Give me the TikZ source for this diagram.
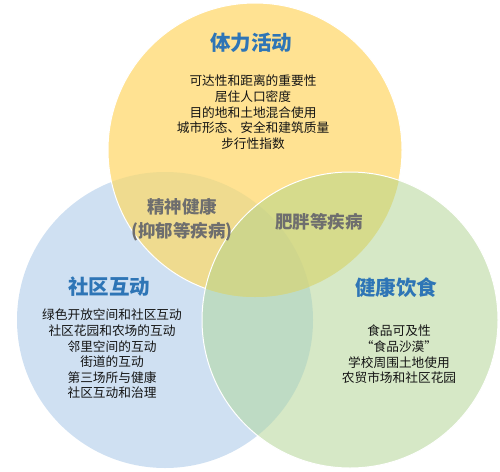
\documentclass[tikz,border=0pt]{standalone}
\usepackage{fontspec}
\newfontfamily\cjk{Noto Sans CJK SC}
\definecolor{cY}{RGB}{255,226,146}
\definecolor{cB}{RGB}{207,224,242}
\definecolor{cG}{RGB}{214,232,198}
\definecolor{cYB}{RGB}{239,219,143}
\definecolor{cYG}{RGB}{214,219,140}
\definecolor{cBG}{RGB}{190,219,196}
\definecolor{cYBG}{RGB}{207,214,140}
\definecolor{ttl}{RGB}{46,117,182}
\definecolor{mid}{RGB}{110,110,110}
\definecolor{body}{RGB}{20,20,20}
\tikzset{
  ttlnode/.style={font=\cjk\bfseries\fontsize{20.5}{24}\selectfont, text=ttl, inner sep=0pt},
  bodynode/.style={font=\cjk\fontsize{12.7}{15.6}\selectfont, text=body, align=center, inner sep=0pt},
  midnode/.style={font=\cjk\bfseries\fontsize{17.5}{24}\selectfont, text=mid, align=center, inner sep=0pt},
  rim/.style={draw=white, line width=1pt}
}
\begin{document}
\begin{tikzpicture}[x=1pt,y=-1pt]
\useasboundingbox (0,0) rectangle (500,471);
\def\Ycirc{(255,150) circle[radius=147]}
\def\Bcirc{(165,320) circle[radius=148]}
\def\Gcirc{(350,320) circle[radius=148]}
\fill[cB] \Bcirc;
\fill[cY] \Ycirc;
\begin{scope}\clip \Ycirc; \fill[cYB] \Bcirc; \end{scope}
\draw[rim] \Ycirc;
\fill[cG] \Gcirc;
\begin{scope}\clip \Gcirc; \fill[cBG] \Bcirc; \end{scope}
\begin{scope}\clip \Gcirc; \fill[cYG] \Ycirc; \end{scope}
\begin{scope}\clip \Gcirc; \clip \Ycirc; \fill[cYBG] \Bcirc; \end{scope}
\draw[rim] \Gcirc;

\node[ttlnode] (t1) at (251,43) {体力活动};
\node[bodynode, anchor=north] (b1) at (253,75) {可达性和距离的重要性\\居住人口密度\\目的地和土地混合使用\\城市形态、安全和建筑质量\\步行性指数};
\node[ttlnode] (t2) at (109,287) {社区互动};
\node[bodynode, anchor=north] (b2) at (112,309) {绿色开放空间和社区互动\\社区花园和农场的互动\\邻里空间的互动\\街道的互动\\第三场所与健康\\社区互动和治理};
\node[ttlnode] (t3) at (396,288) {健康饮食};
\node[bodynode, anchor=north] (b3) at (399,325) {食品可及性\\“食品沙漠”\\学校周围土地使用\\农贸市场和社区花园};
\node[midnode] (m1) at (182,220) {精神健康\\(抑郁等疾病)};
\node[midnode] (m2) at (319,222) {肥胖等疾病};
\end{tikzpicture}
\end{document}
